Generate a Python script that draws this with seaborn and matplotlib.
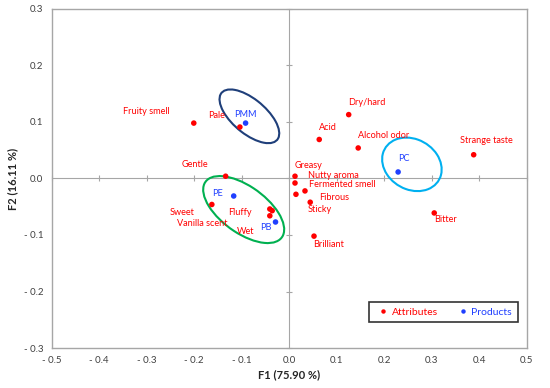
import numpy as np
import pandas as pd
import matplotlib
matplotlib.use("Agg")
import matplotlib.pyplot as plt
from matplotlib.patches import Ellipse
import seaborn as sns

# attribute and product coordinates
attr_names = ["Fruity smell", "Pale", "Gentle", "Sweet", "Vanilla scent", "Fluffy", "Wet",
              "Dry/hard", "Acid", "Alcohol odor", "Strange taste", "Greasy", "Nutty aroma",
              "Fermented smell", "Fibrous", "Sticky", "Bitter", "Brilliant"]
attr_f1 = [-0.201, -0.104, -0.134, -0.163, -0.041, -0.041, -0.036,
           0.125, 0.063, 0.145, 0.388, 0.012, 0.012,
           0.014, 0.033, 0.044, 0.305, 0.052]
attr_f2 = [0.098, 0.091, 0.004, -0.046, -0.066, -0.054, -0.057,
           0.113, 0.069, 0.054, 0.042, 0.004, -0.008,
           -0.028, -0.022, -0.042, -0.061, -0.102]

prod_names = ["PMM", "PE", "PB", "PC"]
prod_f1 = [-0.092, -0.117, -0.029, 0.229]
prod_f2 = [0.098, -0.031, -0.077, 0.0115]

# group ellipses: centre F1, centre F2, width, height, angle
ell_f1 = [-0.084, -0.096, 0.258]
ell_f2 = [0.110, -0.055, 0.025]
ell_w = [0.144, 0.189, 0.128]
ell_h = [0.064, 0.086, 0.091]
ell_ang = [-33, -29, -17]
ell_col = ["#1F3F7A", "#00B050", "#00B0F0"]

# label offsets in pixels (dx, dy)
offsets = {
    "Fruity smell": (-47, 12), "Pale": (-23, 12), "Gentle": (-31, 12), "Sweet": (-30, -8),
    "Vanilla scent": (-68, -8), "Fluffy": (-30, -3), "Wet": (-27, -21), "Dry/hard": (18, 12),
    "Acid": (9, 12), "Alcohol odor": (25, 12), "Strange taste": (13, 14), "Greasy": (14, 11),
    "Nutty aroma": (38, 8), "Fermented smell": (46, 10), "Fibrous": (29, -7), "Sticky": (10, -7),
    "Bitter": (11, -7), "Brilliant": (15, -8),
    "PMM": (0, 9), "PE": (-16, 3), "PB": (-10, -6), "PC": (6, 13),
}

df = pd.DataFrame({
    "name": attr_names + prod_names,
    "F1": attr_f1 + prod_f1,
    "F2": attr_f2 + prod_f2,
    "kind": ["Attributes"] * len(attr_names) + ["Products"] * len(prod_names),
})

sns.set_style("white")
plt.rcParams["font.family"] = ["Lato", "DejaVu Sans"]

red = "#FF0000"
blue = "#1F3FFF"
grey = "#A6A6A6"

fig = plt.figure(figsize=(5.5, 3.88), dpi=100)
ax = fig.add_axes([0.094, 0.103, 0.864, 0.874])

for i in range(len(ell_f1)):
    ax.add_patch(Ellipse((ell_f1[i], ell_f2[i]), ell_w[i], ell_h[i], angle=ell_ang[i],
                         fill=False, edgecolor=ell_col[i], lw=1.5, zorder=3))

sns.scatterplot(data=df, x="F1", y="F2", hue="kind", palette={"Attributes": red, "Products": blue},
                s=16, edgecolor="none", ax=ax, zorder=4)

for _, r in df.iterrows():
    c = red if r["kind"] == "Attributes" else blue
    dx, dy = offsets[r["name"]]
    ax.annotate(r["name"], (r["F1"], r["F2"]), xytext=(dx, dy), textcoords="offset pixels",
                ha="center", va="center", fontsize=6.6, color=c, zorder=5)

ax.set_xlim(-0.5, 0.5)
ax.set_ylim(-0.3, 0.3)
xt = np.round(np.arange(-0.5, 0.51, 0.1), 1)
yt = np.round(np.arange(-0.3, 0.31, 0.1), 1)
ax.set_xticks(xt)
ax.set_yticks(yt)


def fmt(v, pos=None):
    s = f"{abs(v):.1f}"
    return "- " + s if v < -1e-9 else s


ax.set_xticklabels([fmt(v) for v in xt])
ax.set_yticklabels([fmt(v) for v in yt])
ax.tick_params(length=0, labelsize=7, colors="#404040", pad=6)
for sp in ax.spines.values():
    sp.set_color(grey)
    sp.set_linewidth(1)

ax.set_xlabel("F1 (75.90 %)", fontsize=8, fontweight="bold", labelpad=3)
ax.set_ylabel("F2 (16.11 %)", fontsize=8, fontweight="bold", labelpad=4)

# zero lines with crossing tick marks
sx = ax.secondary_xaxis(0.5)
sx.set_xticks(xt)
sx.tick_params(direction="inout", length=5, color=grey, labelbottom=False, labeltop=False)
sx.spines["bottom"].set_color(grey)
sx.spines["top"].set_color(grey)
sy = ax.secondary_yaxis(0.5)
sy.set_yticks(yt)
sy.tick_params(direction="inout", length=5, color=grey, labelleft=False, labelright=False)
sy.spines["left"].set_color(grey)
sy.spines["right"].set_color(grey)

h, l = ax.get_legend_handles_labels()
leg = ax.legend(h, l, ncol=2, loc="center", bbox_to_anchor=(0.668, 0.073, 0.313, 0.066),
                fontsize=7.5, frameon=True, fancybox=False, edgecolor="black",
                handletextpad=0.0, columnspacing=1.6, markerscale=0.8, borderpad=0.55,
                handlelength=1.6)
leg.get_frame().set_linewidth(1.2)
for t, c in zip(leg.get_texts(), [red, blue]):
    t.set_color(c)

fig.savefig("out.png", dpi=100)
